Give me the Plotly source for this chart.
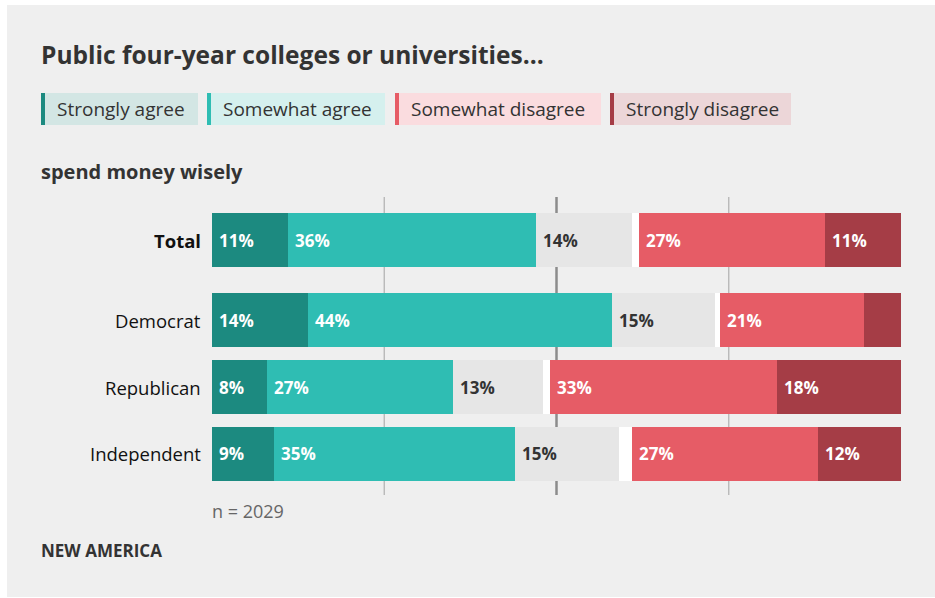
import plotly.graph_objects as go

# Survey responses: "Public four-year colleges or universities... spend money wisely"
groups = ["Total", "Democrat", "Republican", "Independent"]
strongly_agree = [11, 14, 8, 9]
somewhat_agree = [36, 44, 27, 35]
neutral = [14, 15, 13, 15]
no_answer = [1, 0.7, 1, 2]
somewhat_disagree = [27, 21, 33, 27]
strongly_disagree = [11, 5.3, 18, 12]
show_label = {"Democrat": [True, True, True, False, True, False]}

# Row positions (Total sits a little apart from the party rows)
row_pos = [3.2, 2, 1, 0]
grid_ticks = [25, 50, 75]
sample_note = "n = 2029"

C_SA = "#1c8a80"
C_A = "#2fbdb3"
C_N = "#e6e6e6"
C_GAP = "#ffffff"
C_D = "#e65c66"
C_SD = "#a53d46"
TXT = "#333333"
FONT = "Open Sans"

W, H = 935, 598
ML, MR, MT, MB = 212, 34, 197, 103
PW, PH = W - ML - MR, H - MT - MB


def px(x):
    return (x - ML) / PW


def py(y):
    return (H - MB - y) / PH


segments = [
    ("Strongly agree", strongly_agree, C_SA, "white"),
    ("Somewhat agree", somewhat_agree, C_A, "white"),
    ("Neutral", neutral, C_N, TXT),
    ("No answer", no_answer, C_GAP, None),
    ("Somewhat disagree", somewhat_disagree, C_D, "white"),
    ("Strongly disagree", strongly_disagree, C_SD, "white"),
]

fig = go.Figure()
annotations = []
base = [0.0] * len(groups)
for si, (name, vals, color, tcolor) in enumerate(segments):
    fig.add_trace(go.Bar(
        name=name, y=row_pos, x=vals, base=list(base), orientation="h",
        marker=dict(color=color, line=dict(width=0)), width=0.81,
        showlegend=False, hoverinfo="skip",
    ))
    if tcolor is not None:
        for gi, g in enumerate(groups):
            flags = show_label.get(g)
            if flags is not None and not flags[si]:
                continue
            annotations.append(dict(
                x=base[gi], y=row_pos[gi], xref="x", yref="y",
                text=f"<b>{vals[gi]:g}%</b>", showarrow=False,
                xanchor="left", yanchor="middle", xshift=5,
                font=dict(family=FONT, size=17, color=tcolor),
            ))
    base = [b + v for b, v in zip(base, vals)]

# Row labels
for gi, g in enumerate(groups):
    txt = f"<b>{g}</b>" if g == "Total" else g
    annotations.append(dict(
        x=px(203), y=row_pos[gi], xref="paper", yref="y", text=txt,
        showarrow=False, xanchor="right", yanchor="middle",
        font=dict(family=FONT, size=18.5, color="#111111"),
    ))

shapes = []
# Grey panel
shapes.append(dict(type="rect", xref="paper", yref="paper", layer="below",
                   x0=px(7), x1=px(936), y0=py(597), y1=py(5),
                   fillcolor="#efefef", line=dict(width=0)))
# Reference lines at quarter marks, the midpoint emphasised
for t in grid_ticks:
    mid = t == 50
    shapes.append(dict(type="line", xref="x", yref="paper", layer="below",
                       x0=t, x1=t, y0=0, y1=1,
                       line=dict(color="#8c8c8c" if mid else "#b4b4b4",
                                 width=2.5 if mid else 1.3)))

# Legend chips
legend_items = [
    ("Strongly agree", C_SA, "#d3e6e4", 41, 198),
    ("Somewhat agree", C_A, "#d5f0ee", 207, 385),
    ("Somewhat disagree", C_D, "#fadcdf", 395, 601),
    ("Strongly disagree", C_SD, "#ecd6d8", 610, 791),
]
for label, col, bg, x0, x1 in legend_items:
    shapes.append(dict(type="rect", xref="paper", yref="paper",
                       x0=px(x0), x1=px(x1), y0=py(125), y1=py(93),
                       fillcolor=bg, line=dict(width=0)))
    shapes.append(dict(type="rect", xref="paper", yref="paper",
                       x0=px(x0), x1=px(x0 + 4), y0=py(125), y1=py(93),
                       fillcolor=col, line=dict(width=0)))
    annotations.append(dict(
        x=px(x0 + 14), y=py(109), xref="paper", yref="paper", text=label,
        showarrow=False, xanchor="left", yanchor="middle",
        font=dict(family=FONT, size=19, color=TXT),
    ))

# Titles and notes
annotations += [
    dict(x=px(39), y=py(55), xref="paper", yref="paper",
         text="<b>Public four-year colleges or universities...</b>",
         showarrow=False, xanchor="left", yanchor="middle",
         font=dict(family=FONT, size=24.5, color=TXT)),
    dict(x=px(39), y=py(171), xref="paper", yref="paper",
         text="<b>spend money wisely</b>", showarrow=False,
         xanchor="left", yanchor="middle",
         font=dict(family=FONT, size=20, color=TXT)),
    dict(x=px(210), y=py(511), xref="paper", yref="paper", text=sample_note,
         showarrow=False, xanchor="left", yanchor="middle",
         font=dict(family=FONT, size=18, color="#666666")),
    dict(x=px(39), y=py(550), xref="paper", yref="paper",
         text="<b>NEW AMERICA</b>", showarrow=False,
         xanchor="left", yanchor="middle",
         font=dict(family=FONT, size=17, color=TXT)),
]

fig.update_layout(
    width=W, height=H, barmode="overlay", bargap=0,
    margin=dict(l=ML, r=MR, t=MT, b=MB),
    paper_bgcolor="white", plot_bgcolor="rgba(0,0,0,0)",
    xaxis=dict(range=[0, 100], visible=False, fixedrange=True),
    yaxis=dict(range=[-0.617, 3.85], visible=False, fixedrange=True),
    shapes=shapes, annotations=annotations, showlegend=False,
)

fig.write_html("out.html")
